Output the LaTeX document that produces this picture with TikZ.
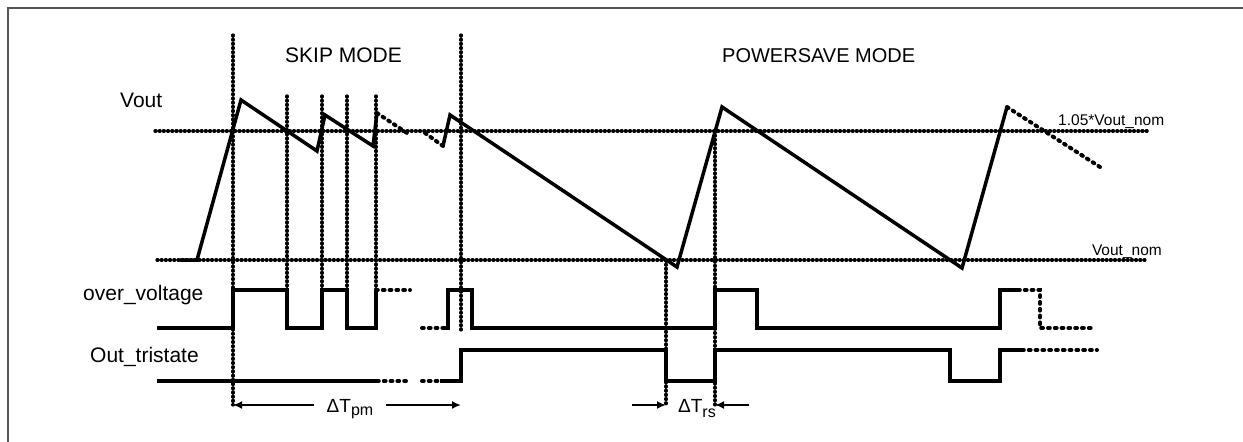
\documentclass[tikz,border=0pt]{standalone}
\usepackage{fontspec}
\setmainfont{Liberation Sans}
\usetikzlibrary{arrows.meta}
\definecolor{framegray}{rgb}{0.33,0.33,0.33}
\tikzset{
  wave/.style={line width=3.5pt,line join=miter},
  dotline/.style={line width=3.3pt,line cap=round,dash pattern=on 0.9pt off 3.3pt},
  contline/.style={line width=4pt,line cap=round,dash pattern=on 1.8pt off 5pt},
  arr/.style={line width=2.2pt,-{Latex[length=9pt,width=8pt]}},
  biglabel/.style={font=\fontsize{21}{25}\selectfont,inner sep=0pt,anchor=base west},
  smalllabel/.style={font=\fontsize{15.5}{18}\selectfont,inner sep=0pt,anchor=base west},
  deltalabel/.style={font=\fontsize{19}{23}\selectfont,inner sep=0pt,outer xsep=13pt,text height=15pt,text depth=0pt},
}
\newcommand{\subtext}[2]{\raisebox{-#1}{\fontsize{16}{18}\selectfont #2}}

\begin{document}
\begin{tikzpicture}[x=1pt,y=-1pt]
\useasboundingbox (0,0) rectangle (1243,442);
% the frame
\draw[framegray,line width=2pt] (8,442) -- (8,8) -- (1243,8);

% points of the Vout curve
\coordinate (v0) at (180,260);
\coordinate (v1) at (197,260);
\coordinate (v2) at (241,100);
\coordinate (v3) at (317,151);
\coordinate (v4) at (325,115);
\coordinate (v5) at (373,146);
\coordinate (v6) at (377,113);
\coordinate (v7) at (407,133);
\coordinate (v8) at (425,133);
\coordinate (v9) at (443,146);
\coordinate (v10) at (450,115);
\coordinate (v11) at (677,267);
\coordinate (v12) at (722,107);
\coordinate (v13) at (962,268);
\coordinate (v14) at (1007,107);
\coordinate (v15) at (1100,167);

% the two levels
\draw[dotline] (155,131) -- (1148,131);
\draw[dotline] (157,260) -- (1148,260);
% the dotted verticals
\foreach \x/\ya/\yb in {233/35/405,287/96/328,322/96/328,347/96/328,376/96/328,461/35/330,666/260/405,715/131/405}
{
\draw[dotline] (\x,\ya) -- (\x,\yb);
}

% the Vout curve
\draw[wave] (v0) -- (v1) -- (v2) -- (v3) -- (v4) -- (v5) -- (v6);
\draw[contline] (v6) -- (v7);
\draw[contline] (v8) -- (v9);
\draw[wave] (v9) -- (v10) -- (v11) -- (v12) -- (v13) -- (v14);
\draw[contline] (v14) -- (v15);

% over_voltage
\draw[wave] (157,328) -- (233,328) -- (233,290) -- (287,290) -- (287,328) -- (322,328) -- (322,290)
  -- (347,290) -- (347,328) -- (376,328) -- (376,290);
\draw[contline] (376,290) -- (410,290);
\draw[contline] (422,328) -- (443,328);
\draw[wave] (443,328) -- (448,328) -- (448,290) -- (472,290) -- (472,328) -- (715,328) -- (715,290)
  -- (757,290) -- (757,328) -- (1000,328) -- (1000,290) -- (1018,290);
\draw[contline] (1018,290) -- (1040,290) -- (1040,328) -- (1093,328);

% Out_tristate
\draw[wave] (157,381) -- (377,381);
\draw[contline] (377,381) -- (410,381);
\draw[contline] (422,381) -- (440,381);
\draw[wave] (440,381) -- (461,381) -- (461,350) -- (666,350) -- (666,381) -- (715,381) -- (715,350)
  -- (950,350) -- (950,381) -- (1000,381) -- (1000,350) -- (1022,350);
\draw[contline] (1022,350) -- (1097,350);

% labels
\node[biglabel] (skip) at (285,62) {SKIP MODE};
\node[biglabel,font=\fontsize{20}{24}\selectfont] (psave) at (722,62) {POWERSAVE MODE};
\node[biglabel] (vout) at (120,107) {Vout};
\node[biglabel] (ov) at (83,300) {over\_voltage};
\node[biglabel] (ot) at (90,362) {Out\_tristate};
\node[smalllabel] (vhi) at (1058,125) {1.05*Vout\_nom};
\node[smalllabel,anchor=base east] (vnom) at (1162,255) {Vout\_nom};

% the time intervals
\coordinate (pm-l) at (233,405);
\coordinate (pm-r) at (461,405);
\coordinate (rs-l) at (632,405);
\coordinate (rs-r) at (749,405);
\coordinate (rs-a) at (666,405);
\coordinate (rs-b) at (715,405);
\node[deltalabel] (Tpm) at (350,405) {ΔT\subtext{3pt}{pm}};
\node[deltalabel] (Trs) at (697,405) {ΔT\subtext{5pt}{rs}};
\draw[arr] (Tpm.west) -- (pm-l);
\draw[arr] (Tpm.east) -- (pm-r);
\draw[arr] (rs-l) -- (rs-a);
\draw[arr] (rs-r) -- (rs-b);
\end{tikzpicture}
\end{document}
